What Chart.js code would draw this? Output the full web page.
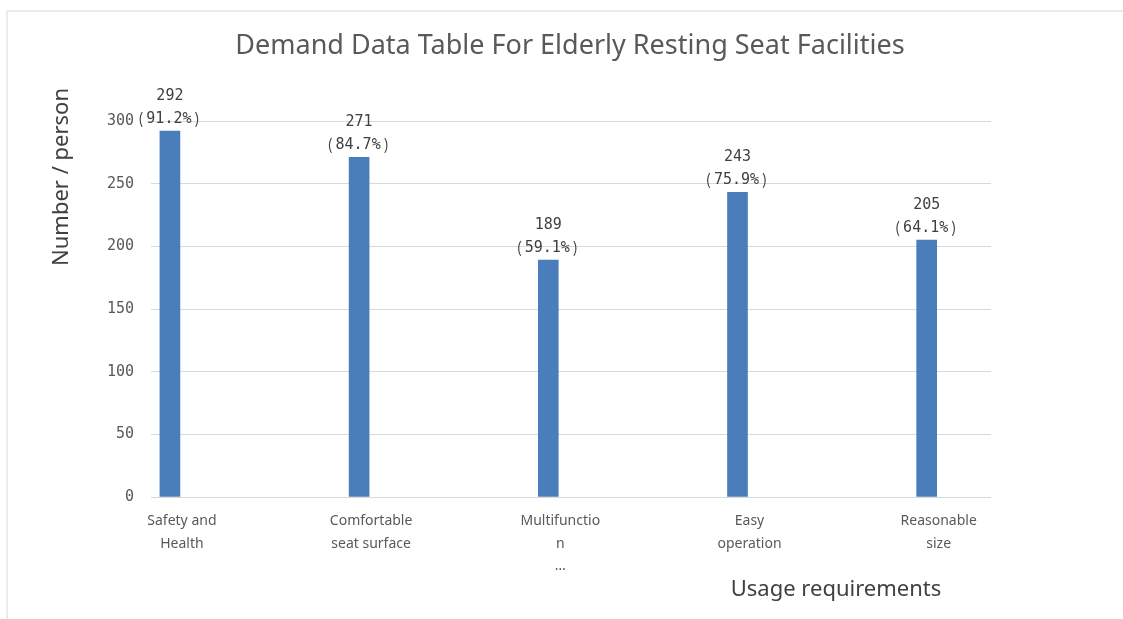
<!DOCTYPE html>
<html>
<head>
<meta charset="utf-8">
<script src="https://cdn.jsdelivr.net/npm/chart.js@4.4.1/dist/chart.umd.min.js"></script>
<style>
  html, body { margin: 0; padding: 0; background: #fff; overflow: hidden; }
  #frame { position: absolute; left: 6px; top: 10px; width: 1200px; height: 700px; border: 2px solid #ebebeb; }
  #wrap { position: absolute; left: 0; top: 0; width: 1123px; height: 619px; }
</style>
</head>
<body>
<div id="frame"></div>
<div id="wrap"><canvas id="myChart" width="1123" height="619"></canvas></div>
<script>
// chart data
const categories = [
  ["Safety and", "Health"],
  ["Comfortable", "seat surface"],
  ["Multifunctio", "n", "…"],
  ["Easy", "operation"],
  ["Reasonable", "size"],
];
const counts = [292, 271, 189, 243, 205];
const percents = ["91.2", "84.7", "59.1", "75.9", "64.1"];
const yTicks = [0, 50, 100, 150, 200, 250, 300];

const chartTitle = "Demand Data Table For Elderly Resting Seat Facilities";
const yTitle = "Number / person";
const xTitle = "Usage requirements";

const monoFont = "'DejaVu Sans Mono', 'Noto Sans CJK SC'";

// title, labels over the bars, axis titles
const extraText = {
  id: "extraText",
  afterDatasetsDraw(chart) {
    const ctx = chart.ctx;
    const meta = chart.getDatasetMeta(0);
    ctx.save();
    ctx.fillStyle = "#404040";
    ctx.textBaseline = "middle";
    meta.data.forEach((bar, i) => {
      ctx.font = "15px " + monoFont;
      ctx.textAlign = "center";
      ctx.fillText(String(counts[i]), bar.x, bar.y - 35);
      // percent line, wide brackets like the original
      const pct = percents[i] + "%";
      const cx = bar.x - 1;
      const w = ctx.measureText(pct).width;
      ctx.fillText(pct, cx, bar.y - 12);
      ctx.font = "15px 'Noto Sans CJK SC'";
      ctx.textAlign = "right";
      ctx.fillText("(", cx - w / 2 - 3, bar.y - 13);
      ctx.textAlign = "left";
      ctx.fillText(")", cx + w / 2 + 3, bar.y - 13);
    });
    ctx.restore();

    ctx.save();
    ctx.fillStyle = "#595959";
    ctx.font = "27px 'Noto Sans'";
    ctx.textAlign = "center";
    ctx.textBaseline = "middle";
    ctx.fillText(chartTitle, 570, 46);
    ctx.restore();

    ctx.save();
    ctx.fillStyle = "#404040";
    ctx.font = "22px 'Noto Sans'";
    ctx.textAlign = "center";
    ctx.textBaseline = "middle";
    ctx.translate(62, 177);
    ctx.rotate(-Math.PI / 2);
    ctx.fillText(yTitle, 0, 0);
    ctx.restore();

    ctx.save();
    ctx.fillStyle = "#404040";
    ctx.font = "22px 'Noto Sans'";
    ctx.textAlign = "center";
    ctx.textBaseline = "middle";
    ctx.fillText(xTitle, 836, 590);
    ctx.restore();
  },
};

const drawChart = () => {
  const ctx = document.getElementById("myChart").getContext("2d");
  new Chart(ctx, {
    type: "bar",
    data: {
      datasets: [
        {
          label: "Number",
          data: counts.map((v, i) => ({ x: i + 1, y: v })),
          backgroundColor: "#4a7ebb",
          barThickness: 20,
        },
      ],
    },
    options: {
      responsive: false,
      animation: false,
      layout: { padding: { left: 0, right: 132, top: 121, bottom: 0 } },
      plugins: {
        legend: { display: false },
        tooltip: { enabled: false },
        title: { display: false },
      },
      scales: {
        x: {
          type: "linear",
          offset: false,
          min: 0.9,
          max: 5.34,
          grid: { display: false },
          border: { display: false },
          afterBuildTicks: (scale) => {
            scale.ticks = categories.map((c, i) => ({ value: i + 1 }));
          },
          afterFit: (scale) => {
            scale.height = 122;
          },
          ticks: {
            autoSkip: false,
            maxRotation: 0,
            padding: 5,
            labelOffset: 12,
            color: "#595959",
            font: { family: "'Noto Sans'", size: 14, lineHeight: 1.6 },
            callback: (v) => categories[v - 1],
          },
        },
        y: {
          min: 0,
          max: 300,
          grid: { color: "#d9d9d9", drawTicks: false },
          border: { display: false },
          afterBuildTicks: (scale) => {
            scale.ticks = yTicks.map((t) => ({ value: t }));
          },
          afterFit: (scale) => {
            scale.width = 151;
          },
          ticks: {
            padding: 17,
            color: "#595959",
            font: { family: monoFont, size: 15 },
          },
        },
      },
    },
    plugins: [extraText],
  });
};

Promise.all([
  document.fonts.load("14px 'Noto Sans CJK SC'", "()"),
  document.fonts.load("14px 'DejaVu Sans Mono'", "0123456789"),
  document.fonts.load("22px 'Noto Sans'", "Aa"),
])
  .catch(() => {})
  .then(drawChart);
</script>
</body>
</html>
